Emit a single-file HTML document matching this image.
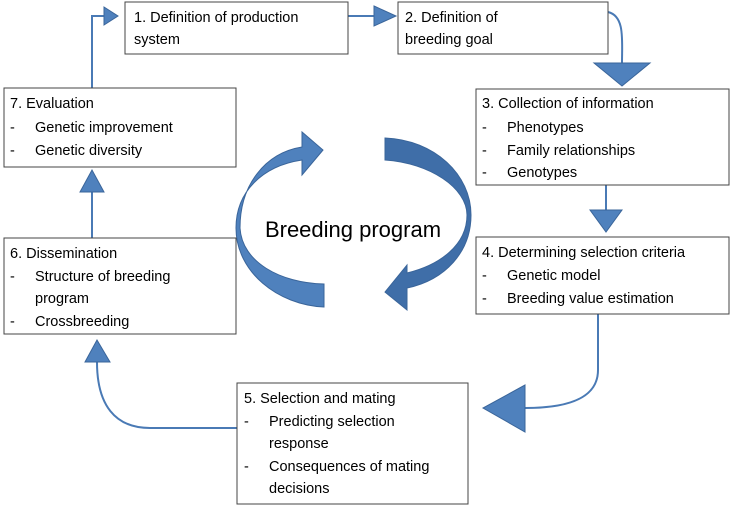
<!DOCTYPE html>
<html><head><meta charset="utf-8"><style>
body{margin:0;background:#fff}
svg{display:block}
text{font-family:"Liberation Sans",sans-serif;font-size:14.5px;fill:#000}
.b{fill:#fff;stroke:#444;stroke-width:1}
.c{fill:none;stroke:#4a7ab5;stroke-width:2}
.h{fill:#4f81bd;stroke:#3a659a;stroke-width:1}
</style></head><body>
<svg width="735" height="511" viewBox="0 0 735 511">
<g>
<path class="c" d="M348,16 L374,16"/><path class="h" d="M374,6 L396,16 L374,26 Z"/>
<path class="c" d="M92,88 L92,16 L104,16"/><path class="h" d="M104,7 L118,16 L104,25 Z"/>
<path class="c" d="M608,12 C625,16 622,40 622,63"/><path class="h" d="M594,63 L650,63 L622,86 Z"/>
<path class="c" d="M606,185 L606,210"/><path class="h" d="M590,210 L622,210 L606,232 Z"/>
<path class="c" d="M598,314 L598,370 C598,395 575,408 525,408"/><path class="h" d="M525,385 L525,432 L483,408 Z"/>
<path class="c" d="M237,428 L150,428 C115,428 97,405 97,362"/><path class="h" d="M85,362 L110,362 L97,340 Z"/>
<path class="c" d="M92,238 L92,192"/><path class="h" d="M80,192 L104,192 L92,170 Z"/>
</g>
<g>
<path class="h" d="M324,307 C278,305 236,272 236,228 C236,192 262,166 302,160 L302,175 L323,150 L302,132 L302,147 C265,153 240,185 240,228 C242,262 280,283 324,284 Z"/>
<path class="h" style="fill:#3f6ea8" d="M385,138 C435,140 471,175 471,215 C471,252 445,280 407,288 L407,310 L385,292 L407,265 L407,273 C440,265 467,245 467,215 C467,188 430,163 385,160 Z"/>
<text x="353" y="237" text-anchor="middle" style="font-size:22px">Breeding program</text>
</g>
<g><rect class="b" x="125" y="2" width="223" height="52"/>
<text x="134" y="22">1. Definition of production</text><text x="134" y="44">system</text></g>
<g><rect class="b" x="398" y="2" width="210" height="52"/>
<text x="405" y="22">2. Definition of</text><text x="405" y="44">breeding goal</text></g>
<g><rect class="b" x="476" y="89" width="253" height="96"/>
<text x="482" y="108">3. Collection of information</text>
<text x="482" y="132">-</text><text x="507" y="132">Phenotypes</text>
<text x="482" y="155">-</text><text x="507" y="155">Family relationships</text>
<text x="482" y="177">-</text><text x="507" y="177">Genotypes</text></g>
<g><rect class="b" x="476" y="237" width="253" height="77"/>
<text x="482" y="257">4. Determining selection criteria</text>
<text x="482" y="280">-</text><text x="507" y="280">Genetic model</text>
<text x="482" y="303">-</text><text x="507" y="303">Breeding value estimation</text></g>
<g><rect class="b" x="237" y="383" width="231" height="121"/>
<text x="244" y="403">5. Selection and mating</text>
<text x="244" y="426">-</text><text x="269" y="426">Predicting selection</text><text x="269" y="448">response</text>
<text x="244" y="471">-</text><text x="269" y="471">Consequences of mating</text><text x="269" y="493">decisions</text></g>
<g><rect class="b" x="4" y="238" width="232" height="96"/>
<text x="10" y="258">6. Dissemination</text>
<text x="10" y="281">-</text><text x="35" y="281">Structure of breeding</text><text x="35" y="303">program</text>
<text x="10" y="326">-</text><text x="35" y="326">Crossbreeding</text></g>
<g><rect class="b" x="4" y="88" width="232" height="79"/>
<text x="10" y="108">7. Evaluation</text>
<text x="10" y="132">-</text><text x="35" y="132">Genetic improvement</text>
<text x="10" y="155">-</text><text x="35" y="155">Genetic diversity</text></g>
</svg>
</body></html>
